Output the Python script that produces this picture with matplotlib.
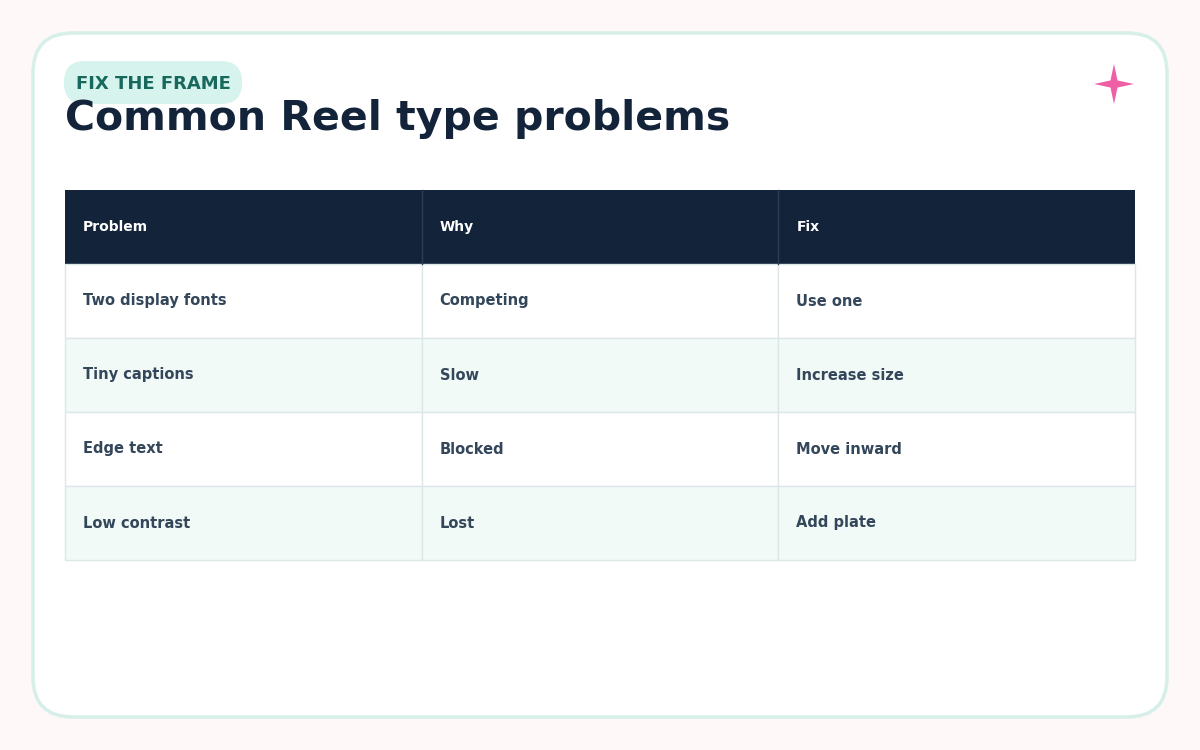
import numpy as np
import matplotlib
matplotlib.use("Agg")
import matplotlib.pyplot as plt
from matplotlib.patches import FancyBboxPatch, Rectangle, Polygon

badge = "FIX THE FRAME"
title = "Common Reel type problems"
headers = ["Problem", "Why", "Fix"]
problems = ["Two display fonts", "Tiny captions", "Edge text", "Low contrast"]
whys = ["Competing", "Slow", "Blocked", "Lost"]
fixes = ["Use one", "Increase size", "Move inward", "Add plate"]

W, H = 1200, 750
fig = plt.figure(figsize=(12, 7.5), dpi=100)
fig.patch.set_facecolor("#fff8f8")
ax = fig.add_axes([0, 0, 1, 1])
ax.set_xlim(0, W)
ax.set_ylim(H, 0)
ax.axis("off")

# card
ax.add_patch(FancyBboxPatch((33, 33), 1134, 684, boxstyle="round,pad=0,rounding_size=40",
                            facecolor="white", edgecolor="#d6efe8", linewidth=2.5))
# badge
ax.add_patch(FancyBboxPatch((64, 61), 178, 43, boxstyle="round,pad=0,rounding_size=21",
                            facecolor="#d6f3ed", edgecolor="none"))
ax.text(153, 84, badge, fontsize=13, fontweight="bold", color="#17695e", ha="center", va="center")
ax.text(65, 119, title, fontsize=29.5, fontweight="bold", color="#13233a", ha="left", va="center")

# star
cx, cy, R, r = 1114, 84, 20, 5
ang = np.arange(8) * np.pi / 4 - np.pi / 2
rad = np.where(np.arange(8) % 2 == 0, R, r)
ax.add_patch(Polygon(np.c_[cx + rad * np.cos(ang), cy + rad * np.sin(ang)], closed=True,
                     facecolor="#ee5fa6", edgecolor="none"))

# table
x0, x1 = 65, 1135
col_w = (x1 - x0) / 3
top, row_h = 190, 74
ax.add_patch(Rectangle((x0, top), x1 - x0, row_h, facecolor="#13233a", edgecolor="none"))
for j, h in enumerate(headers):
    ax.text(x0 + j * col_w + 18, top + row_h / 2, h, fontsize=10, fontweight="bold",
            color="white", va="center")
    if j:
        ax.plot([x0 + j * col_w] * 2, [top, top + row_h], color="#2e3d52", lw=1)

for i, row in enumerate(zip(problems, whys, fixes)):
    y = top + row_h * (i + 1)
    fc = "#f2faf7" if i % 2 else "white"
    for j, val in enumerate(row):
        ax.add_patch(Rectangle((x0 + j * col_w, y), col_w, row_h, facecolor=fc,
                               edgecolor="#dde7ea", linewidth=1))
        ax.text(x0 + j * col_w + 18, y + row_h / 2, val, fontsize=10.5, fontweight="bold",
                color="#33465a", va="center")

fig.savefig("out.png", dpi=100, facecolor=fig.get_facecolor())
